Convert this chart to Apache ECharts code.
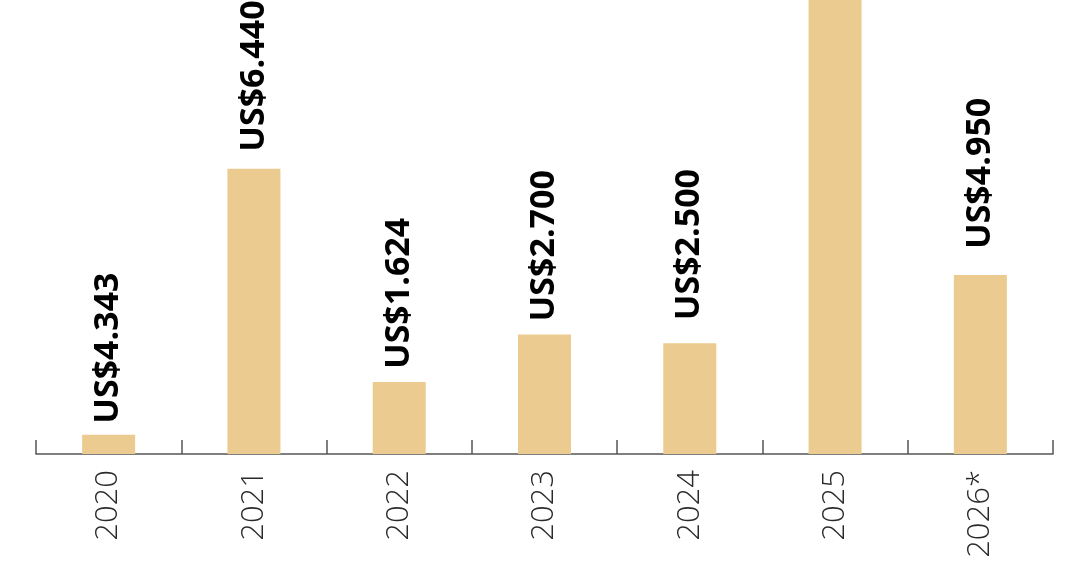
<!DOCTYPE html>
<html>
<head>
<meta charset="utf-8">
<style>
  html, body { margin: 0; padding: 0; background: #ffffff; }
  #chart { width: 1080px; height: 567px; }
</style>
<script src="https://cdn.jsdelivr.net/npm/echarts@6/dist/echarts.min.js"></script>
</head>
<body>
<div id="chart"></div>
<script>
// Categories (x axis tick labels)
const categories = ['2020', '2021', '2022', '2023', '2024', '2025', '2026*'];
// Bar heights as drawn in the picture
const barValues = [0.434, 6.44, 1.624, 2.70, 2.50, 11.5, 4.04];
// Value labels printed above each bar (2025 label lies outside the visible area)
const valueLabels = ['US$4.343', 'US$6.440', 'US$1.624', 'US$2.700', 'US$2.500', '', 'US$4.950'];

// Label gap above each bar (styling, px)
const labelGaps = [11, 17, 13, 13, 23, 13, 26];

const chart = echarts.init(document.getElementById('chart'), null, { renderer: 'canvas' });

chart.setOption({
  animation: false,
  backgroundColor: '#ffffff',
  grid: { left: 36, right: 27, top: 0, bottom: 113, containLabel: false },
  xAxis: {
    type: 'category',
    data: categories,
    boundaryGap: true,
    axisLine: { show: true, lineStyle: { color: '#555555', width: 1.5 } },
    axisTick: { show: true, inside: true, length: 14, alignWithLabel: false, lineStyle: { color: '#555555', width: 1.5 } },
    axisLabel: {
      rotate: 90,
      margin: 16,
      color: '#2a2a2a',
      fontSize: 31,
      fontWeight: 300,
      fontFamily: 'Open Sans, Lato, sans-serif'
    }
  },
  yAxis: {
    type: 'value',
    min: 0,
    max: 10.25,
    show: false,
    splitLine: { show: false }
  },
  series: [{
    type: 'bar',
    data: barValues.map(function (v, i) {
      return { value: v, label: { distance: labelGaps[i] } };
    }),
    barWidth: 53,
    clip: true,
    itemStyle: { color: '#EBCB8F' },
    label: {
      show: true,
      position: 'top',
      rotate: 90,
      align: 'left',
      verticalAlign: 'middle',
      distance: 13,
      color: '#000000',
      fontSize: 34,
      fontWeight: 'bold',
      fontFamily: 'Open Sans, Noto Sans, sans-serif',
      formatter: function (p) { return valueLabels[p.dataIndex]; }
    }
  }]
});
</script>
</body>
</html>
